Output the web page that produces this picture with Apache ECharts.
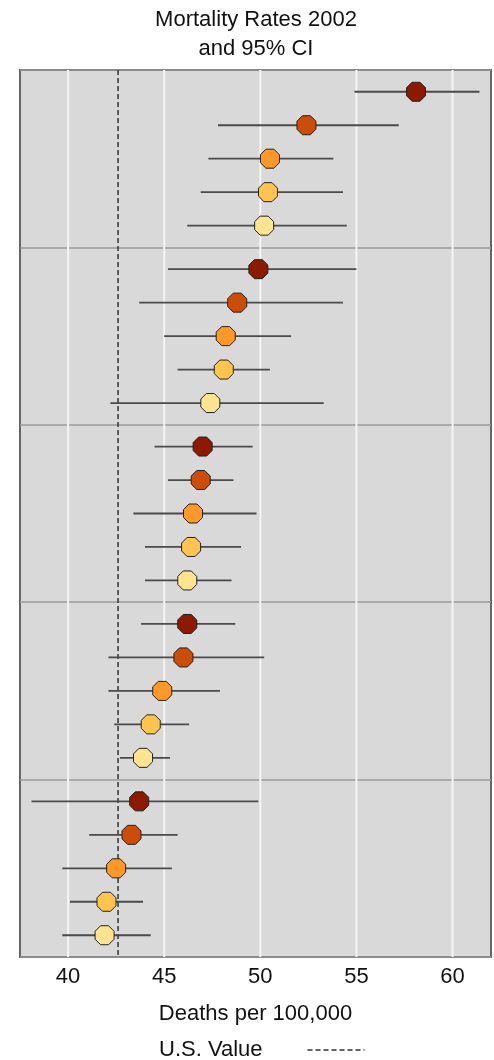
<!DOCTYPE html>
<html>
<head>
<meta charset="utf-8">
<script src="https://cdn.jsdelivr.net/npm/echarts@6/dist/echarts.min.js"></script>
<style>
html,body{margin:0;padding:0;background:#fff;}
#chart{width:494px;height:1060px;}
</style>
</head>
<body>
<div id="chart"></div>
<script>
// Data: 5 panels x 5 rows (top to bottom)
const rates = [
  58.1, 52.4, 50.5, 50.4, 50.2,
  49.9, 48.8, 48.2, 48.1, 47.4,
  47.0, 46.9, 46.5, 46.4, 46.2,
  46.2, 46.0, 44.9, 44.3, 43.9,
  43.7, 43.3, 42.5, 42.0, 41.9
];
const ciLow = [
  54.9, 47.8, 47.3, 46.9, 46.2,
  45.2, 43.7, 45.0, 45.7, 42.2,
  44.5, 45.2, 43.4, 44.0, 44.0,
  43.8, 42.1, 42.1, 42.4, 42.7,
  38.1, 41.1, 39.7, 40.1, 39.7
];
const ciHigh = [
  61.4, 57.2, 53.8, 54.3, 54.5,
  55.0, 54.3, 51.6, 50.5, 53.3,
  49.6, 48.6, 49.8, 49.0, 48.5,
  48.7, 50.2, 47.9, 46.3, 45.3,
  49.9, 45.7, 45.4, 43.9, 44.3
];
const usValue = 42.6;
const xTicks = [40, 45, 50, 55, 60];
const rowColors = ['#8b1a00', '#cc4c0a', '#fe9929', '#fec44f', '#fee391'];

const ROWS_PER_PANEL = 5;
const PANEL_SPAN = 53, ROW_STEP = 10, PAD = 6.5;
function rowPos(i) {
  const p = Math.floor(i / ROWS_PER_PANEL), r = i % ROWS_PER_PANEL;
  return p * PANEL_SPAN + PAD + r * ROW_STEP;
}
const yMax = PANEL_SPAN * (rates.length / ROWS_PER_PANEL);

const pointData = rates.map((v, i) => [v, rowPos(i)]);
const ciData = rates.map((v, i) => [ciLow[i], ciHigh[i], rowPos(i)]);
const marker = 'path://M29,0 L71,0 L100,29 L100,71 L71,100 L29,100 L0,71 L0,29 Z';
const FONT = "'Liberation Sans', Arial, sans-serif";
const FS = 22;

const chart = echarts.init(document.getElementById('chart'), null, {renderer: 'canvas'});
chart.setOption({
  animation: false,
  backgroundColor: '#ffffff',
  title: {
    text: 'Mortality Rates 2002\nand 95% CI',
    left: 256, top: 5, padding: 0,
    textAlign: 'center',
    textStyle: {fontFamily: FONT, fontSize: FS, fontWeight: 'normal', color: '#111', lineHeight: 29}
  },
  legend: {
    data: ['U.S. Value'],
    left: 159, top: 1039,
    align: 'right',
    itemWidth: 57, itemHeight: 12,
    padding: 0,
    itemStyle: {opacity: 0},
    lineStyle: {type: [5, 3], width: 1.5, color: '#333'},
    textStyle: {fontFamily: FONT, fontSize: FS, color: '#111', padding: [0, 40, 0, 0]}
  },
  grid: {
    left: 20, right: 3, top: 70, bottom: 103,
    show: true, backgroundColor: '#d9d9d9', borderColor: '#666', borderWidth: 2
  },
  xAxis: {
    type: 'value', min: 37.5, max: 62, interval: 2.5,
    name: 'Deaths per 100,000', nameLocation: 'middle', nameGap: 46,
    nameTextStyle: {fontFamily: FONT, fontSize: FS, color: '#111'},
    axisLine: {show: false}, axisTick: {show: false}, splitLine: {show: false},
    axisLabel: {
      fontFamily: FONT, fontSize: FS, color: '#111', margin: 9,
      formatter: v => (xTicks.indexOf(v) >= 0 ? String(v) : '')
    }
  },
  yAxis: {
    type: 'value', inverse: true, min: 0, max: yMax, interval: PANEL_SPAN,
    axisLine: {show: false}, axisTick: {show: false}, axisLabel: {show: false},
    splitLine: {show: true, lineStyle: {color: '#9a9a9a', width: 1.5}}
  },
  series: [
    {
      type: 'custom', name: 'grid', z: 1, silent: true,
      data: xTicks,
      renderItem: (params, api) => {
        const x = api.value(0);
        const a = api.coord([x, 0]), b = api.coord([x, yMax]);
        return {type: 'line', shape: {x1: a[0], y1: a[1], x2: b[0], y2: b[1]},
                style: {stroke: '#f4f4f4', lineWidth: 2}};
      }
    },
    {
      type: 'line', name: 'U.S. Value', z: 2, silent: true,
      data: [[usValue, 0], [usValue, yMax]],
      symbol: 'none', color: '#333',
      lineStyle: {color: '#333', width: 1.5, type: [5, 3]}
    },
    {
      type: 'custom', name: 'ci', z: 3, silent: true,
      data: ciData,
      renderItem: (params, api) => {
        const a = api.coord([api.value(0), api.value(2)]);
        const b = api.coord([api.value(1), api.value(2)]);
        return {type: 'line', shape: {x1: a[0], y1: a[1], x2: b[0], y2: b[1]},
                style: {stroke: '#4a4a4a', lineWidth: 1.8}};
      }
    },
    {
      type: 'scatter', name: 'rate', z: 4,
      data: pointData,
      symbol: marker, symbolSize: 19,
      itemStyle: {
        color: p => rowColors[p.dataIndex % ROWS_PER_PANEL],
        borderColor: '#222', borderWidth: 1, opacity: 1
      }
    }
  ]
});
</script>
</body>
</html>
